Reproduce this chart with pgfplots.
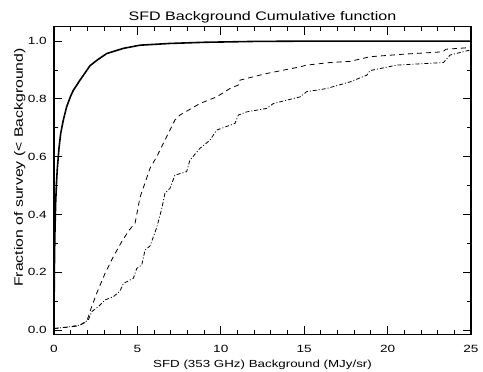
\documentclass[border=0pt]{standalone}
\usepackage{fontspec}
\setmainfont{Liberation Sans}[FakeStretch=1.3]
\usepackage{pgfplots}
\pgfplotsset{compat=1.18}
\begin{document}
\begin{tikzpicture}
\path[use as bounding box] (0bp,0bp) rectangle (483bp,372bp);
\begin{axis}[
  at={(54bp,37.7bp)}, anchor=south west,
  scale only axis, width=417bp, height=307.6bp,
  xmin=0, xmax=25, ymin=-0.015, ymax=1.05,
  xtick={0,5,10,15,20,25}, ytick={0,0.2,0.4,0.6,0.8,1.0},
  minor x tick num=4, minor y tick num=1,
  tick align=inside, major tick length=8bp, minor tick length=4bp,
  axis line style={line width=1.1bp},
  every tick/.style={black, line width=0.9bp},
  /pgf/number format/assume math mode=true,
  yticklabel style={/pgf/number format/fixed, /pgf/number format/fixed zerofill, /pgf/number format/precision=1, xshift=-3.7bp},
  xticklabel style={yshift=-7bp},
  ticklabel style={font=\fontsize{10.5}{11}\selectfont},
  title={SFD Background Cumulative function},
  title style={at={(0.5,1)}, anchor=base, yshift=0.5bp, font=\fontsize{12.4}{13}\selectfont},
  xlabel={SFD (353 GHz) Background (MJy/sr)},
  xlabel style={at={(0.5,0)}, anchor=base, yshift=-33.5bp, font=\fontsize{10.3}{12}\selectfont},
  ylabel={Fraction of survey (< Background)},
  ylabel style={at={(0,0.5)}, anchor=base, yshift=31bp, xshift=13bp, font=\fontsize{12.2}{13}\selectfont},
]
\addplot[black, line width=1.6bp] coordinates {
(0,0) (0.01,0.12) (0.03,0.25) (0.06,0.35) (0.1,0.44) (0.15,0.51) (0.2,0.56) (0.3,0.63) (0.4,0.68) (0.56,0.727) (0.76,0.773) (1.0,0.81) (1.16,0.83) (1.56,0.865) (2.16,0.915) (2.6,0.935) (3.16,0.957) (4.16,0.975) (5.16,0.986) (6.95,0.992) (9,0.996) (12,0.999) (15,1.0) (25,1.0)
};
\addplot[black, line width=0.8bp, dash pattern=on 5bp off 4bp] coordinates {
(0,0.005) (0.5,0.008) (1.0,0.011) (1.46,0.014) (1.96,0.029) (2.26,0.081) (2.56,0.127) (3.06,0.196) (3.56,0.254) (4.06,0.306) (4.5,0.345) (4.86,0.37) (5.16,0.46) (5.76,0.56) (6.16,0.6) (6.65,0.657) (7.25,0.727) (7.55,0.744) (8.75,0.784) (9.75,0.807) (10.55,0.836) (11.05,0.848) (11.15,0.865) (12.75,0.888) (14.75,0.911) (15.15,0.917) (16.55,0.926) (17.75,0.93) (18.95,0.946) (21,0.955) (23.3,0.963) (23.5,0.972) (25,0.978)
};
\addplot[black, line width=0.8bp, dash pattern=on 4bp off 2bp on 1bp off 2bp] coordinates {
(0,0.005) (0.8,0.01) (1.56,0.017) (2.06,0.035) (2.26,0.063) (2.66,0.081) (3.06,0.104) (3.56,0.115) (3.96,0.135) (4.16,0.161) (4.76,0.179) (4.96,0.213) (5.26,0.225) (5.46,0.277) (5.76,0.291) (6.16,0.355) (6.46,0.42) (6.65,0.473) (6.95,0.49) (7.25,0.536) (7.95,0.548) (8.15,0.588) (8.75,0.629) (9.35,0.657) (9.75,0.692) (10.85,0.715) (11.05,0.744) (11.55,0.755) (12.75,0.767) (13.15,0.784) (14.75,0.807) (15.15,0.825) (16.35,0.836) (17.75,0.859) (18.75,0.882) (18.95,0.898) (20.55,0.917) (23.35,0.926) (23.75,0.952) (25,0.97)
};
\end{axis}
\end{tikzpicture}
\end{document}
